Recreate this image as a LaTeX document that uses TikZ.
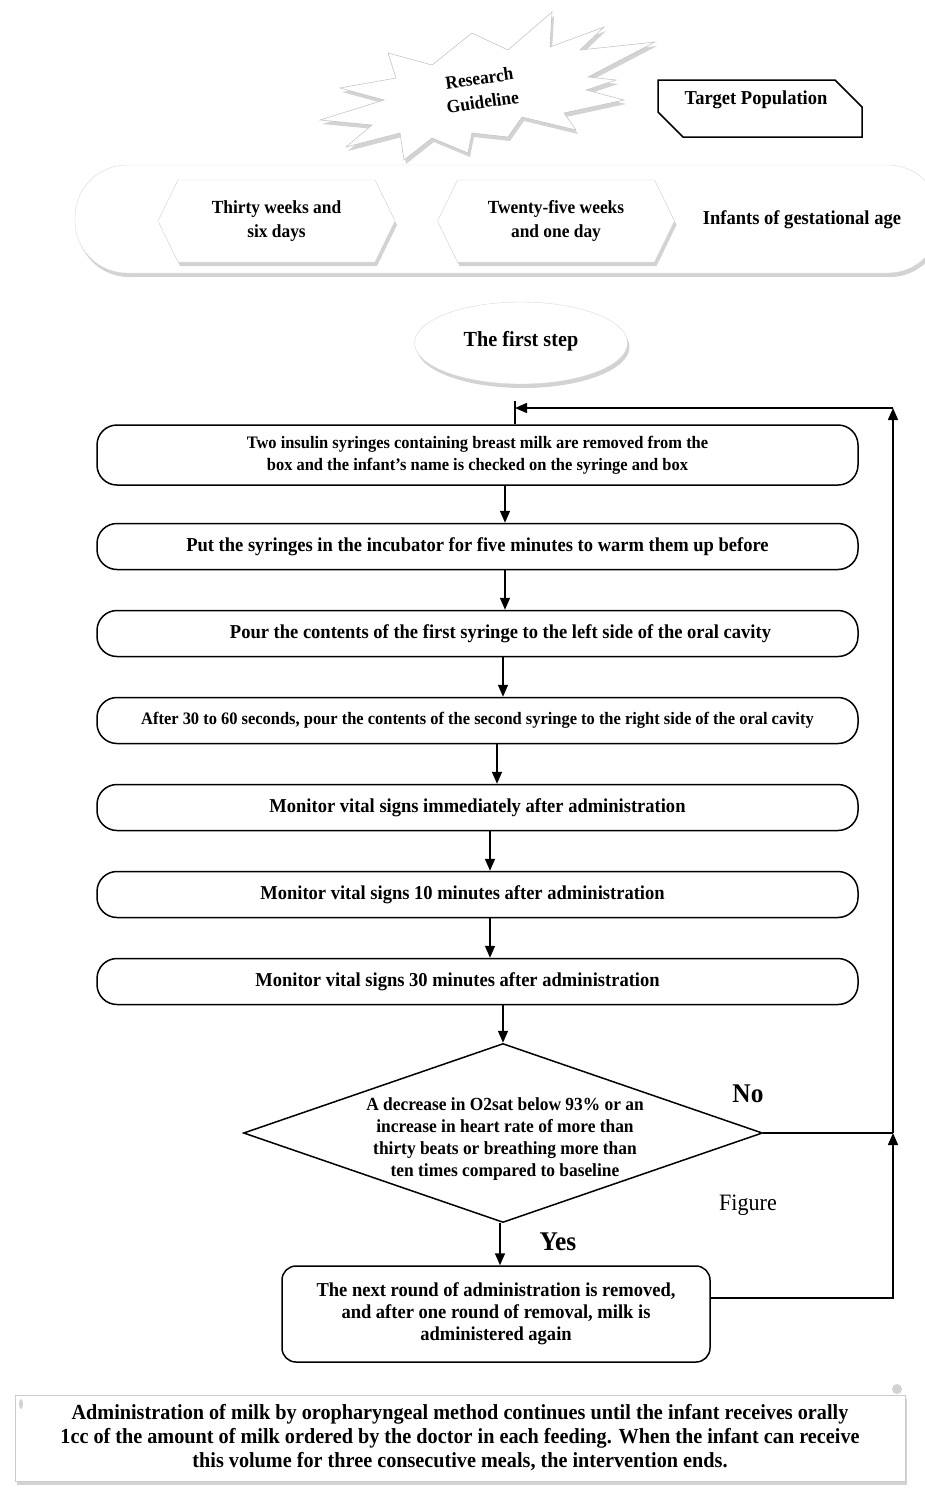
\documentclass[tikz,border=0pt]{standalone}
\usepackage{fontspec}
\setmainfont{Liberation Serif}[FakeStretch=0.94]
\usepackage{tikz}
\usetikzlibrary{arrows.meta, positioning, shapes.geometric, shapes.symbols, shadows}

\begin{document}
\begin{tikzpicture}[x=1pt, y=-1pt, node distance=39.5pt,
  soft/.style={drop shadow={shadow xshift=2pt, shadow yshift=-4pt, opacity=0.35}},
  stepbox/.style={draw, line width=1.5pt, rounded corners=20pt, minimum width=761pt, minimum height=46pt, inner sep=0pt, fill=white, align=center, font=\fontsize{19.7}{22}\selectfont\bfseries},
  small/.style={font=\fontsize{17.5}{22}\selectfont\bfseries},
  hexa/.style={signal, signal to=east and west, signal pointer angle=128, draw=gray!35, fill=white, soft, minimum width=237pt, minimum height=82pt, inner sep=0pt, align=center, font=\fontsize{18.5}{24}\selectfont\bfseries},
  plain/.style={align=center, font=\fontsize{19.7}{22}\selectfont\bfseries},
  flow/.style={-{Triangle[length=12pt, width=10pt]}, line width=1.6pt},
  link/.style={line width=1.6pt}]
\useasboundingbox (0,0) rectangle (925,1492);

% header
\draw[draw=gray!30, fill=white, soft, rounded corners=52pt] (75,165) rectangle (940,273);
\draw[draw=gray!45, line width=0.6pt, fill=white, soft] (320,120) -- (384,100) -- (340,88) -- (396,78) -- (388,53) -- (432,65) -- (472,33) -- (508,50) -- (552,12) -- (550,47) -- (604,27) -- (580,50) -- (655,42) -- (588,77) -- (616,80) -- (586,90) -- (624,100) -- (564,113) -- (576,130) -- (522,117) -- (508,137) -- (472,133) -- (468,153) -- (432,138) -- (404,160) -- (400,133) -- (346,147) -- (372,125) -- cycle;
\node[align=center, rotate=8, font=\fontsize{18.5}{24}\selectfont\bfseries] (guide) at (481,90) {Research\\Guideline};
\draw[line width=1.5pt] (658,80) -- (835,80) -- (862,107) -- (862,137) -- (683,137) -- (658,112) -- cycle;
\node[plain] (pop) at (756,100) {Target Population};

\node[hexa] (h1) at (276.5,221) {Thirty weeks and\\six days};
\node[hexa] (h2) at (556,221) {Twenty-five weeks\\and one day};
\node[plain] (inf) at (802,220) {Infants of gestational age};

\node[ellipse, draw=gray!30, fill=white, soft, minimum width=213pt, minimum height=82pt, text depth=9pt, font=\fontsize{21.5}{24}\selectfont\bfseries] (first) at (521,343) {The first step};

% steps
\node[stepbox, minimum height=60pt, small] (s1) at (477.5,455) {Two insulin syringes containing breast milk are removed from the\\box and the infant's name is checked on the syringe and box};
\node[stepbox] (s2) [below=37pt of s1] {Put the syringes in the incubator for five minutes to warm them up before};
\node[stepbox] (s3) [below=of s2] {\hspace*{46pt}Pour the contents of the first syringe to the left side of the oral cavity};
\node[stepbox, small] (s4) [below=of s3] {After 30 to 60 seconds, pour the contents of the second syringe to the right side of the oral cavity};
\node[stepbox] (s5) [below=of s4] {Monitor vital signs immediately after administration};
\node[stepbox] (s6) [below=of s5] {Monitor vital signs 10 minutes after administration\hspace*{30pt}};
\node[stepbox] (s7) [below=of s6] {Monitor vital signs 30 minutes after administration\hspace*{40pt}};

\node[diamond, draw, line width=1.5pt, minimum width=519pt, minimum height=179pt, inner sep=0pt] (dec) at (503,1133) {};
\node[plain, font=\fontsize{18.5}{22}\selectfont\bfseries] (dectext) at (505,1139) {A decrease in O2sat below 93\% or an\\increase in heart rate of more than\\thirty beats or breathing more than\\ten times compared to baseline};

\node[draw, line width=1.5pt, rounded corners=14pt, minimum width=428pt, minimum height=96pt, plain] (b8) at (496,1314) {The next round of administration is removed,\\and after one round of removal, milk is\\administered again};

\node[font=\fontsize{27}{28}\selectfont\bfseries] (no) at (748,1094) {No};
\node[font=\fontsize{27}{28}\selectfont\bfseries] (yes) at (558,1242) {Yes};
\node[font=\fontsize{23.5}{26}\selectfont] (fig) at (748,1205) {Figure};

% arrows
\draw[flow] ([xshift=27.5pt]s1.south) -- ([xshift=27.5pt]s2.north);
\draw[flow] ([xshift=27.5pt]s2.south) -- ([xshift=27.5pt]s3.north);
\draw[flow] ([xshift=25.5pt]s3.south) -- ([xshift=25.5pt]s4.north);
\draw[flow] ([xshift=19.5pt]s4.south) -- ([xshift=19.5pt]s5.north);
\draw[flow] ([xshift=12.5pt]s5.south) -- ([xshift=12.5pt]s6.north);
\draw[flow] ([xshift=12.5pt]s6.south) -- ([xshift=12.5pt]s7.north);
\draw[flow] (s7.south -| dec.north) -- (dec.north);
\draw[flow] ([xshift=-3pt]dec.south) -- ([xshift=-3pt]dec.south |- b8.north);

% loop back
\coordinate (ra) at (893,1133);
\coordinate (rb) at (893,408);
\coordinate (entry) at (515,408);
\draw[link] (dec.east) -- (ra);
\draw[flow] ([yshift=16pt]b8.east) -| (ra);
\draw[flow] (ra) -- (rb);
\draw[flow] (rb) -- (entry);
\draw[link] ([yshift=7pt]entry) -- (entry |- s1.north);

% closing note
\node[draw=gray!40, fill=white, soft, minimum width=890pt, minimum height=86pt, align=center, font=\fontsize{21.5}{24}\selectfont\bfseries] (note) at (460,1438) {Administration of milk by oropharyngeal method continues until the infant receives orally\\1cc of the amount of milk ordered by the doctor in each feeding. When the infant can receive\\this volume for three consecutive meals, the intervention ends.};
\fill[gray!35] (897,1389) circle (5pt);
\fill[gray!35] (21,1404) ellipse (2pt and 5pt);
\end{tikzpicture}
\end{document}
